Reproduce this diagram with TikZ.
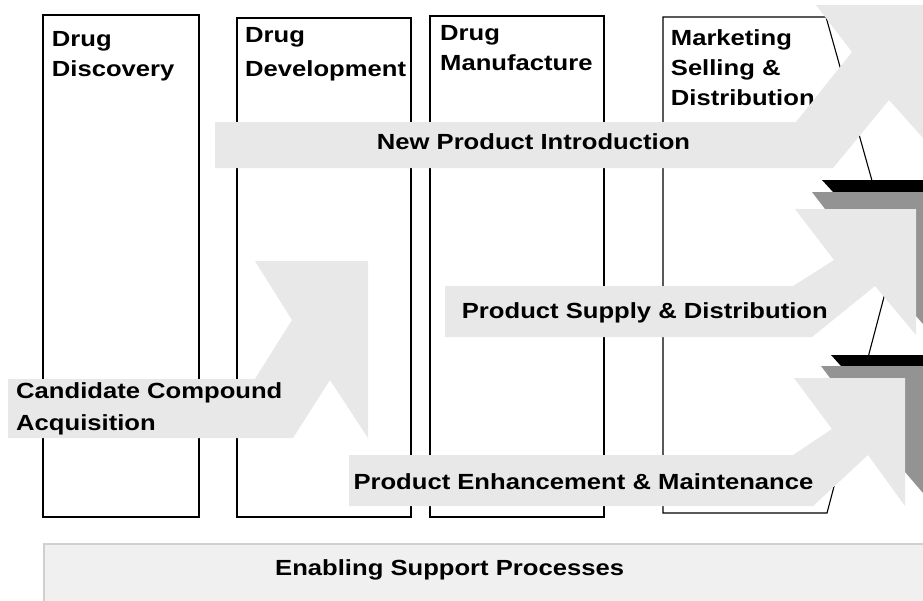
\documentclass[tikz,border=0pt]{standalone}
\usepackage{fontspec}
\newfontfamily\stagefont[FakeStretch=1.17]{Liberation Sans}
\definecolor{flowgray}{HTML}{E8E8E8}
\definecolor{edgegray}{HTML}{939393}
\definecolor{supportfill}{HTML}{F0F0F0}
\definecolor{supportline}{HTML}{D0D0D0}
\tikzset{
    stagebox/.style={draw=black, line width=1.4pt, fill=white},
    chevronbox/.style={draw=black, line width=1.1pt, fill=white},
    stagelabel/.style={anchor=base west, align=left, inner sep=0pt, font={\stagefont\bfseries\fontsize{21.9}{30}\selectfont}},
    flowband/.style={fill=flowgray, draw=none},
    edgeblack/.style={fill=black, draw=none},
    edgedark/.style={fill=edgegray, draw=none},
    supportbox/.style={draw=supportline, line width=2pt, fill=supportfill}
}

\begin{document}
\begin{tikzpicture}[x=1pt, y=-1pt]
    \useasboundingbox (0,0) rectangle (923,600);

    % Value chain stages (labels sit on their last baseline)
    \draw[stagebox] (43,15) rectangle (199,517);
    \draw[stagebox] (237,18) rectangle (411,517);
    \draw[stagebox] (430,16) rectangle (604,517);
    \draw[chevronbox] (663,17) -- (826,17) -- (894,259) -- (827,513) -- (663,513) -- cycle;

    \node[stagelabel] (discovery) at (51.7,76.7) {Drug\\Discovery};
    \node[stagelabel] (development) at (245,76.7) {Drug\\[4.7pt]Development};
    \node[stagelabel] (manufacture) at (440,70) {Drug\\Manufacture};
    \node[stagelabel] (marketing) at (670.7,105) {Marketing\\Selling \&\\Distribution};

    % Support layer
    \draw[supportbox] (44,543.7) rectangle (935,615);
    \node[stagelabel] (support) at (275,575) {Enabling Support Processes};

    % Candidate compound flow
    \fill[flowband] (8,379) -- (255,379) -- (292,320) -- (255,261) -- (368,261)
        -- (368,438) -- (330,380) -- (293,438) -- (8,438) -- cycle;
    \node[stagelabel] (candidate) at (16,430) {Candidate Compound\\[1.7pt]Acquisition};

    % New product flow
    \fill[flowband] (215,122) -- (796,122) -- (852,52) -- (816,5) -- (923,5)
        -- (923,138) -- (889,100) -- (833,168) -- (215,168) -- cycle;
    \node[stagelabel] (newproduct) at (376.7,149) {New Product Introduction};

    % Supply flow with its raised edges
    \fill[edgeblack] (822,180) -- (923,180) -- (923,192) -- (833,192) -- cycle;
    \fill[edgedark] (812,192) -- (923,192) -- (923,324) -- (916,316) -- (916,209) -- (825,209) -- cycle;
    \fill[flowband] (445,286) -- (793,286) -- (834,260) -- (795,209) -- (916,209)
        -- (916,335) -- (875,286) -- (812,337) -- (445,337) -- cycle;
    \node[stagelabel] (supply) at (461.7,318.3) {Product Supply \& Distribution};

    % Enhancement flow with its raised edges
    \fill[edgeblack] (831,355) -- (923,355) -- (923,366) -- (841,366) -- cycle;
    \fill[edgedark] (821,366) -- (923,366) -- (923,493) -- (905,472) -- (905,378) -- (830,378) -- cycle;
    \fill[flowband] (349,455) -- (793,455) -- (832,429) -- (794,378) -- (905,378)
        -- (905,506) -- (868,455) -- (813,506) -- (349,506) -- cycle;
    \node[stagelabel] (enhancement) at (353.3,489) {Product Enhancement \& Maintenance};

\end{tikzpicture}
\end{document}
